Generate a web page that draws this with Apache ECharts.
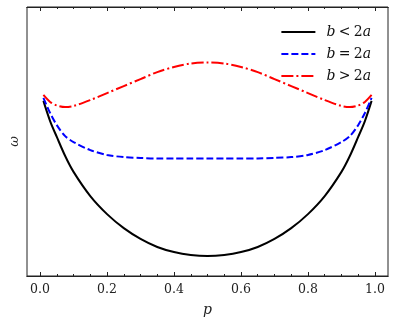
<!DOCTYPE html>
<html>
<head>
<meta charset="utf-8">
<script src="https://cdn.jsdelivr.net/npm/echarts@6/dist/echarts.min.js"></script>
<style>
  html, body { margin: 0; padding: 0; background: #fff; }
  #chart { width: 396px; height: 322px; }
</style>
</head>
<body>
<div id="chart"></div>
<script>
// p 取值（横轴）
var pValues = [0.01, 0.03, 0.05, 0.075, 0.1, 0.15, 0.2, 0.25, 0.3, 0.35, 0.4, 0.45, 0.5,
               0.55, 0.6, 0.65, 0.7, 0.75, 0.8, 0.85, 0.9, 0.925, 0.95, 0.97, 0.99]
// ω，三种情况（纵轴无刻度，任意单位）
var omegaLess = [0.651, 0.576, 0.517, 0.446, 0.387, 0.297, 0.230, 0.178, 0.138, 0.108, 0.089, 0.078, 0.074,
                 0.078, 0.089, 0.108, 0.138, 0.178, 0.230, 0.297, 0.387, 0.446, 0.517, 0.576, 0.651]
var omegaEqual = [0.662, 0.606, 0.561, 0.520, 0.498, 0.468, 0.450, 0.442, 0.439, 0.437, 0.437, 0.437, 0.437,
                  0.437, 0.437, 0.437, 0.439, 0.442, 0.450, 0.468, 0.498, 0.520, 0.561, 0.606, 0.662]
var omegaGreater = [0.673, 0.647, 0.634, 0.628, 0.632, 0.654, 0.680, 0.706, 0.732, 0.758, 0.777, 0.790, 0.794,
                    0.790, 0.777, 0.758, 0.732, 0.706, 0.680, 0.654, 0.632, 0.628, 0.634, 0.647, 0.673]
var legendNames = ['b < 2a', 'b = 2a', 'b > 2a']
var majorTicks = [0, 0.2, 0.4, 0.6, 0.8, 1.0]
var minorTicks = [0.05, 0.1, 0.15, 0.25, 0.3, 0.35, 0.45, 0.5, 0.55, 0.65, 0.7, 0.75, 0.85, 0.9, 0.95]

function pairs(ys) {
  return pValues.map(function (p, i) { return [p, ys[i]] })
}

var serif = 'DejaVu Serif'
var frameColor = '#222'

function xAxisOf(pos, ticks, len, labels) {
  return {
    type: 'value',
    position: pos,
    min: -0.039,
    max: 1.039,
    axisLine: { show: true, onZero: false, lineStyle: { color: frameColor, width: 1 } },
    axisTick: { show: true, inside: true, length: len, customValues: ticks, lineStyle: { color: frameColor, width: 1 } },
    axisLabel: labels ? {
      show: true, customValues: majorTicks, margin: 7,
      fontFamily: serif, fontSize: 12.5, color: '#222',
      formatter: function (v) { return v.toFixed(1) }
    } : { show: false },
    splitLine: { show: false },
    name: labels ? 'p' : '',
    nameLocation: 'middle',
    nameGap: 27,
    nameTextStyle: { fontFamily: serif, fontStyle: 'italic', fontSize: 14, color: '#222' }
  }
}

var chart = echarts.init(document.getElementById('chart'))
var option = {
  animation: false,
  grid: { left: 26, right: 8, top: 7, bottom: 46, show: true, borderColor: frameColor, borderWidth: 1 },
  legend: {
    orient: 'vertical',
    right: 20,
    top: 20,
    itemWidth: 34,
    itemHeight: 14,
    itemGap: 8,
    itemStyle: { opacity: 0 },
    data: legendNames,
    formatter: function (name) {
      var parts = name.split(' ')
      return '{i|' + parts[0] + '} {r|' + parts[1] + '} {r|2}{i|a}'
    },
    textStyle: {
      padding: [0, 0, 0, 6],
      rich: {
        i: { fontFamily: serif, fontStyle: 'italic', fontSize: 14, color: '#111' },
        r: { fontFamily: serif, fontSize: 14, color: '#111' }
      }
    }
  },
  xAxis: [
    xAxisOf('bottom', majorTicks, 4, true),
    xAxisOf('bottom', minorTicks, 2, false),
    xAxisOf('top', majorTicks, 4, false),
    xAxisOf('top', minorTicks, 2, false)
  ],
  yAxis: {
    type: 'value',
    min: 0,
    max: 1,
    axisLine: { show: false, onZero: false },
    axisTick: { show: false },
    axisLabel: { show: false },
    splitLine: { show: false },
    name: 'ω',
    nameLocation: 'middle',
    nameRotate: 90,
    nameGap: 6,
    nameTextStyle: { fontFamily: serif, fontStyle: 'italic', fontSize: 13, color: '#222' }
  },
  series: [
    {
      name: legendNames[0], type: 'line', smooth: 0.3, symbol: 'none',
      lineStyle: { color: '#000', width: 2, type: 'solid' },
      itemStyle: { color: '#000' },
      data: pairs(omegaLess)
    },
    {
      name: legendNames[1], type: 'line', smooth: 0.3, symbol: 'none',
      lineStyle: { color: '#0000ff', width: 2, type: [7, 3] },
      itemStyle: { color: '#0000ff' },
      data: pairs(omegaEqual)
    },
    {
      name: legendNames[2], type: 'line', smooth: 0.3, symbol: 'none',
      lineStyle: { color: '#ff0000', width: 2, type: [12, 3, 2, 3] },
      itemStyle: { color: '#ff0000' },
      data: pairs(omegaGreater)
    }
  ]
}
chart.setOption(option)
window.addEventListener('resize', function () { chart.resize() })
</script>
</body>
</html>
